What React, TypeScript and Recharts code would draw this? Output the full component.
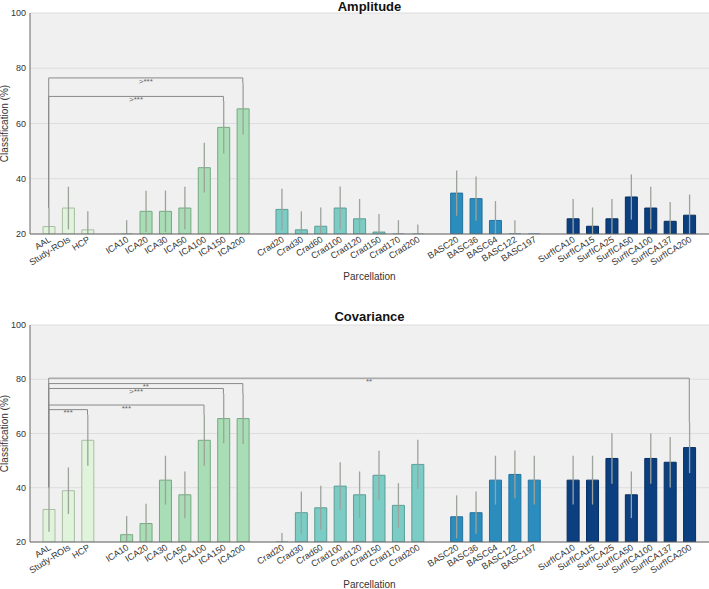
import { BarChart, Bar, XAxis, YAxis, CartesianGrid, ErrorBar, Cell, ReferenceLine } from 'recharts';

const FONT = '"Liberation Sans", Arial, sans-serif';
const Y_MIN = 20;

// parcellation families, drawn left to right with a gap between them
const anatomical = ['AAL', 'Study-ROIs', 'HCP'];
const ica = ['ICA10', 'ICA20', 'ICA30', 'ICA50', 'ICA100', 'ICA150', 'ICA200'];
const crad = ['Crad20', 'Crad30', 'Crad60', 'Crad100', 'Crad120', 'Crad150', 'Crad170', 'Crad200'];
const basc = ['BASC20', 'BASC36', 'BASC64', 'BASC122', 'BASC197'];
const surfIca = ['SurfICA10', 'SurfICA15', 'SurfICA25', 'SurfICA50', 'SurfICA100', 'SurfICA137', 'SurfICA200'];

const families = [anatomical, ica, crad, basc, surfIca];
const familyFill = ['#e0f3db', '#a8ddb5', '#7bccc4', '#2b8cbe', '#0b3f80'];
const familyEdge = ['#a9bda4', '#77a883', '#5c9d96', '#23729e', '#082f60'];

// amplitude classification (%), same order as the families
const amplitudeMean = [
  22.7, 29.4, 21.5,
  18, 28.2, 28.2, 29.4, 44.0, 58.6, 65.3,
  28.9, 21.5, 22.8, 29.4, 25.5, 20.7, 18.5, 17,
  34.8, 32.8, 24.9, 18, 12,
  25.5, 22.8, 25.5, 33.4, 29.4, 24.6, 26.8,
];
const amplitudeErr = [
  6.8, 7.7, 6.7,
  7, 7.5, 7.5, 7.7, 9, 9.5, 9.3,
  7.5, 6.7, 6.8, 7.8, 7.2, 6.5, 6.5, 6.4,
  8.2, 8, 7, 7, 6,
  7.2, 6.8, 7.2, 8.2, 7.7, 7, 7.5,
];

// covariance classification (%)
const covarianceMean = [
  32.0, 38.9, 57.5,
  22.7, 26.8, 42.8, 37.4, 57.5, 65.5, 65.5,
  16.5, 30.8, 32.6, 40.6, 37.4, 44.6, 33.5, 48.6,
  29.3, 30.8, 42.8, 44.9, 42.8,
  42.8, 42.8, 50.8, 37.4, 50.8, 49.4, 54.8,
];
const covarianceErr = [
  8.2, 8.6, 9.4,
  6.9, 7.3, 9, 8.6, 9.4, 9.1, 9.4,
  6.8, 7.8, 8.1, 8.8, 8.6, 9, 8.2, 9.1,
  7.9, 7.8, 9, 8.8, 9,
  9, 9, 9.3, 8.6, 9.3, 9.3, 9.4,
];

// significance brackets against AAL
const amplitudeBrackets = [
  { to: 'ICA200', level: 76.5, text: '>***' },
  { to: 'ICA150', level: 69.8, text: '>***' },
];
const covarianceBrackets = [
  { to: 'SurfICA200', level: 80.4, text: '**' },
  { to: 'ICA200', level: 78.4, text: '**' },
  { to: 'ICA150', level: 76.6, text: '>***' },
  { to: 'ICA100', level: 70.5, text: '***' },
  { to: 'HCP', level: 68.8, text: '***' },
];

const yTicks = [20, 40, 60, 80, 100];

// error whiskers are cut at the bottom of the axis, like the bars
const clipErr = (v: number, e: number) => [Math.min(e, v - Y_MIN), Math.max(e, Y_MIN - v)];

const rows: any[] = [];
let k = 0;
families.forEach((names, f) => {
  if (f > 0) rows.push({ name: `gap${f}` });
  names.forEach(n => {
    rows.push({
      name: n,
      family: f,
      amp: amplitudeMean[k],
      ampErr: clipErr(amplitudeMean[k], amplitudeErr[k]),
      ampTop: amplitudeMean[k] + amplitudeErr[k],
      cov: covarianceMean[k],
      covErr: clipErr(covarianceMean[k], covarianceErr[k]),
      covTop: covarianceMean[k] + covarianceErr[k],
    });
    k++;
  });
});

function SlantTick({ x, y, payload }: any) {
  if (String(payload.value).startsWith('gap')) return <g />;
  const tx = x + 3;
  const ty = y + 7;
  return (
    <text x={tx} y={ty} transform={`rotate(-32 ${tx} ${ty})`} textAnchor="end" fontSize={9} fill="#333" fontFamily={FONT}>
      {payload.value}
    </text>
  );
}

function Panel({ valueKey, errKey, topKey, brackets, height, marginTop }: any) {
  const topOf = (name: string) => rows.find(d => d.name === name)[topKey];
  return (
    <BarChart width={709} height={height} data={rows} margin={{ top: marginTop, right: 0, bottom: 1, left: 0 }}>
      <CartesianGrid vertical={false} fill="#f0f0f0" stroke="#dddddd" />
      <XAxis
        dataKey="name"
        interval={0}
        tickLine={false}
        tickSize={0}
        tickMargin={0}
        height={46}
        padding={{ left: 9, right: 10 }}
        axisLine={{ stroke: '#666' }}
        tick={<SlantTick />}
        label={{ value: 'Parcellation', position: 'insideBottom', offset: 0, fontSize: 10, fill: '#333', fontFamily: FONT }}
      />
      <YAxis
        width={30}
        domain={[Y_MIN, 100]}
        ticks={yTicks}
        allowDataOverflow
        tickLine={false}
        tickSize={2}
        tickMargin={2}
        axisLine={{ stroke: '#666' }}
        tick={{ fontSize: 9, fill: '#333', fontFamily: FONT }}
        label={{ value: 'Classification (%)', angle: -90, position: 'insideLeft', offset: 4, fontSize: 10, fill: '#333', fontFamily: FONT, style: { textAnchor: 'middle' } }}
      />
      <Bar dataKey={valueKey} barSize={12} isAnimationActive={false} strokeWidth={1}>
        {rows.map((d, i) => (
          <Cell key={i} fill={d.family === undefined ? 'none' : familyFill[d.family]} stroke={d.family === undefined ? 'none' : familyEdge[d.family]} />
        ))}
        <ErrorBar dataKey={errKey} width={0} stroke="#9ca39a" strokeWidth={1.3} direction="y" />
      </Bar>
      {brackets.map((b: any, i: number) => (
        <ReferenceLine
          key={`h${i}`}
          segment={[{ x: 'AAL', y: b.level }, { x: b.to, y: b.level }]}
          stroke="#8a8a8a"
          strokeWidth={1}
          label={{ value: b.text, position: 'center', dy: 3, fontSize: 8, fill: '#666', fontFamily: FONT }}
        />
      ))}
      {brackets.map((b: any, i: number) => (
        <ReferenceLine key={`l${i}`} segment={[{ x: 'AAL', y: b.level }, { x: 'AAL', y: topOf('AAL') }]} stroke="#8a8a8a" strokeWidth={1} />
      ))}
      {brackets.map((b: any, i: number) => (
        <ReferenceLine key={`r${i}`} segment={[{ x: b.to, y: b.level }, { x: b.to, y: topOf(b.to) }]} stroke="#8a8a8a" strokeWidth={1} />
      ))}
    </BarChart>
  );
}

const titleStyle: any = {
  position: 'absolute',
  left: 30,
  width: 679,
  textAlign: 'center',
  fontFamily: FONT,
  fontWeight: 'bold',
  fontSize: 13,
  lineHeight: '14px',
  color: '#111',
};

export default function App() {
  return (
    <div style={{ position: 'absolute', left: 0, top: 0, width: 709, height: 589, background: '#fff' }}>
      <div style={{ position: 'absolute', left: 0, top: 0 }}>
        <Panel valueKey="amp" errKey="ampErr" topKey="ampTop" brackets={amplitudeBrackets} height={281} marginTop={13} />
      </div>
      <div style={{ ...titleStyle, top: 0 }}>Amplitude</div>
      <div style={{ position: 'absolute', left: 0, top: 296 }}>
        <Panel valueKey="cov" errKey="covErr" topKey="covTop" brackets={covarianceBrackets} height={293} marginTop={29} />
      </div>
      <div style={{ ...titleStyle, top: 310 }}>Covariance</div>
    </div>
  );
}
